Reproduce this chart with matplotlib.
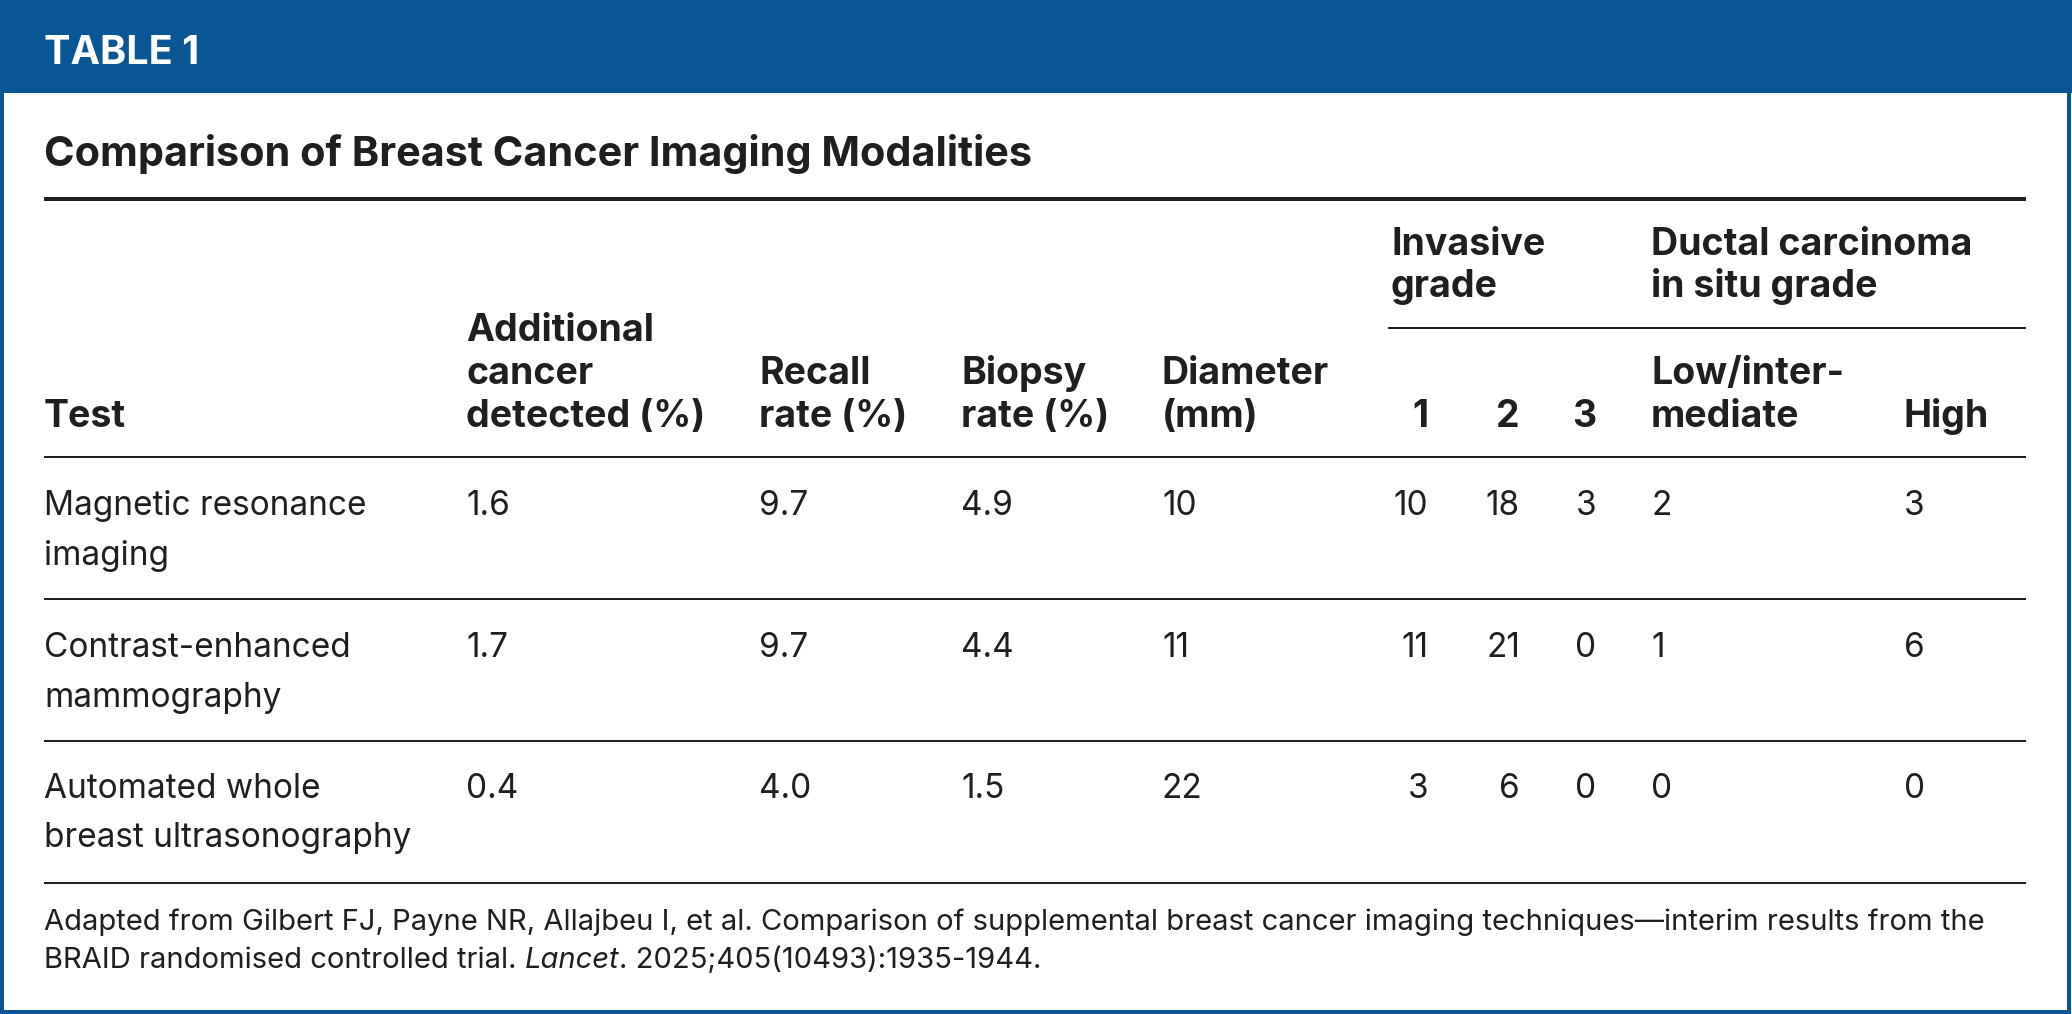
import matplotlib
matplotlib.use("Agg")
import matplotlib.pyplot as plt
from matplotlib.patches import Rectangle

# ---------------- data ----------------
header_label = "TABLE 1"
title = "Comparison of Breast Cancer Imaging Modalities"
tests = ["Magnetic resonance\nimaging",
         "Contrast-enhanced\nmammography",
         "Automated whole\nbreast ultrasonography"]
additional_cancer = [1.6, 1.7, 0.4]
recall_rate = [9.7, 9.7, 4.0]
biopsy_rate = [4.9, 4.4, 1.5]
diameter_mm = [10, 11, 22]
invasive_g1 = [10, 11, 3]
invasive_g2 = [18, 21, 6]
invasive_g3 = [3, 0, 0]
dcis_low_inter = [2, 1, 0]
dcis_high = [3, 6, 0]

col_headers = ["Test", "Additional\ncancer\ndetected (%)", "Recall\nrate (%)",
               "Biopsy\nrate (%)", "Diameter\n(mm)", "1", "2", "3",
               "Low/inter-\nmediate", "High"]
group_headers = ["Invasive\ngrade", "Ductal carcinoma\nin situ grade"]
foot_1 = ("Adapted from Gilbert FJ, Payne NR, Allajbeu I, et al. Comparison of "
          "supplemental breast cancer imaging techniques\u2014interim results from the")
foot_2a = "BRAID randomised controlled trial. "
foot_2b = "Lancet"
foot_2c = ". 2025;405(10493):1935-1944."

# ---------------- layout ----------------
W, H = 2072, 1014
BLUE = "#0A5594"
INK = "#1f1f1f"
FONT = ["Inter", "Lato", "DejaVu Sans"]

fig = plt.figure(figsize=(W / 100, H / 100), dpi=100)
ax = fig.add_axes([0, 0, 1, 1])
ax.set_xlim(0, W)
ax.set_ylim(H, 0)
ax.axis("off")

def px(v):
    return v * 0.72

# frame + header band
ax.add_patch(Rectangle((0, 0), W, 93, facecolor=BLUE, edgecolor="none", zorder=1))
ax.add_patch(Rectangle((1.5, 1.5), W - 4.5, H - 3.5, facecolor="none",
                       edgecolor=BLUE, linewidth=px(4), zorder=2))

ax.text(44, 64, header_label, color="white", fontsize=28.5, fontweight="bold",
        family=FONT, va="baseline", ha="left")
ax.text(44, 166, title, color=INK, fontsize=29.8, fontweight="bold",
        family=FONT, va="baseline", ha="left")

L, R = 44, 2026
# rules
ax.plot([L, R], [199, 199], color=INK, lw=px(4), solid_capstyle="butt")
ax.plot([1388, R], [328, 328], color=INK, lw=px(2), solid_capstyle="butt")
for y in [457, 599, 741, 883]:
    ax.plot([L, R], [y, y], color=INK, lw=px(2), solid_capstyle="butt")

# column anchors: (x, ha)
cols = [(44, "left"), (466, "left"), (759, "left"), (961, "left"), (1162, "left"),
        (1428, "right"), (1520, "right"), (1596, "right"), (1651, "left"), (1904, "left")]

HEAD_SIZE = 27
BODY_SIZE = 24
head_base = 427
head_gap = 43
for (x, ha), lab in zip(cols, col_headers):
    lines = lab.split("\n")
    n = len(lines)
    for i, ln in enumerate(lines):
        ax.text(x, head_base - (n - 1 - i) * head_gap, ln, color=INK,
                fontsize=HEAD_SIZE, fontweight="bold", family=FONT,
                va="baseline", ha=ha)

for x, lab in zip([1391, 1651], group_headers):
    for i, ln in enumerate(lab.split("\n")):
        ax.text(x, 255 + i * 42, ln, color=INK, fontsize=HEAD_SIZE,
                fontweight="bold", family=FONT, va="baseline", ha="left")

row_base = [515, 657, 798]
body_gap = 49.5
for r in range(len(tests)):
    vals = [tests[r], f"{additional_cancer[r]:.1f}", f"{recall_rate[r]:.1f}",
            f"{biopsy_rate[r]:.1f}", f"{diameter_mm[r]}", f"{invasive_g1[r]}",
            f"{invasive_g2[r]}", f"{invasive_g3[r]}", f"{dcis_low_inter[r]}",
            f"{dcis_high[r]}"]
    for (x, ha), v in zip(cols, vals):
        for i, ln in enumerate(v.split("\n")):
            ax.text(x, row_base[r] + i * body_gap, ln, color=INK,
                    fontsize=BODY_SIZE, family=FONT, va="baseline", ha=ha)

FOOT_SIZE = 21
ax.text(44, 930, foot_1, color=INK, fontsize=FOOT_SIZE, family=FONT,
        va="baseline", ha="left")

renderer = fig.canvas.get_renderer()
t1 = ax.text(44, 968, foot_2a, color=INK, fontsize=FOOT_SIZE, family=FONT,
             va="baseline", ha="left")
bb = t1.get_window_extent(renderer)
x2 = ax.transData.inverted().transform((bb.x1, bb.y0))[0]
t2 = ax.text(x2, 968, foot_2b, color=INK, fontsize=FOOT_SIZE, family=FONT,
             style="italic", va="baseline", ha="left")
bb2 = t2.get_window_extent(renderer)
x3 = ax.transData.inverted().transform((bb2.x1, bb2.y0))[0]
ax.text(x3, 968, foot_2c, color=INK, fontsize=FOOT_SIZE, family=FONT,
        va="baseline", ha="left")

fig.savefig("out.png", dpi=100, facecolor="white")
